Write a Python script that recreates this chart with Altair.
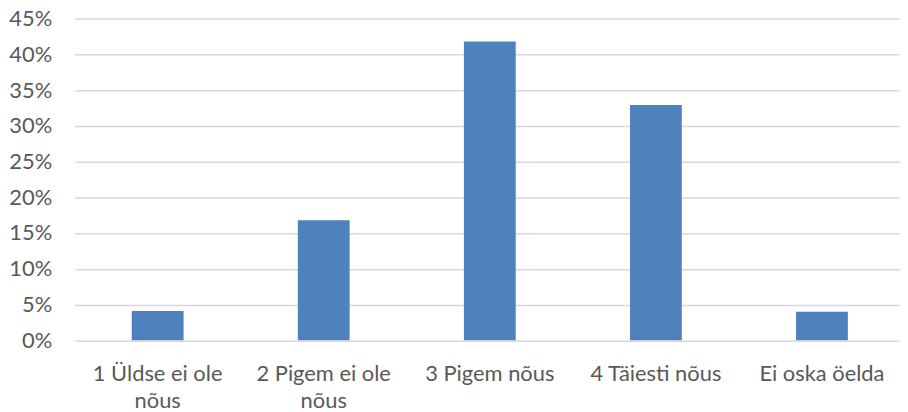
import altair as alt
import pandas as pd

categories = ["1 Üldse ei ole nõus", "2 Pigem ei ole nõus", "3 Pigem nõus", "4 Täiesti nõus", "Ei oska öelda"]
values = [0.041, 0.168, 0.418, 0.329, 0.040]
y_ticks = [0, 0.05, 0.10, 0.15, 0.20, 0.25, 0.30, 0.35, 0.40, 0.45]

df = pd.DataFrame({"category": categories, "share": values})

label_expr = (
    "datum.label == '1 Üldse ei ole nõus' ? ['1 Üldse ei ole', 'nõus'] : "
    "datum.label == '2 Pigem ei ole nõus' ? ['2 Pigem ei ole', 'nõus'] : datum.label"
)

FONT = "Lato"
TXT = "#595959"

chart = alt.Chart(df).mark_bar(color="#4F81BD").encode(
    x=alt.X(
        "category:N",
        sort=categories,
        title=None,
        scale=alt.Scale(paddingInner=0.688, paddingOuter=0.344, range=[0, 835]),
        axis=alt.Axis(
            labelAngle=0,
            labelExpr=label_expr,
            labelFont=FONT,
            labelFontSize=22,
            labelColor=TXT,
            labelPadding=23,
            labelLineHeight=28,
            labelLimit=0,
            ticks=False,
            domain=False,
            grid=False,
        ),
    ),
    y=alt.Y(
        "share:Q",
        scale=alt.Scale(domain=[0, 0.45], nice=False),
        axis=alt.Axis(
            values=y_ticks,
            format=".0%",
            title=None,
            labelFont=FONT,
            labelFontSize=22,
            labelColor=TXT,
            labelPadding=23,
            ticks=False,
            domain=False,
            grid=True,
            gridColor="#D9D9D9",
            gridWidth=1.5,
        ),
    ),
).properties(
    width=830,
    height=323.5,
    autosize=alt.AutoSizeParams(type="none"),
    padding={"left": 67, "top": 9.5, "right": 0, "bottom": 70},
).configure_view(stroke=None)

chart.save("out.html", embed_options={"renderer": "svg", "actions": False})
